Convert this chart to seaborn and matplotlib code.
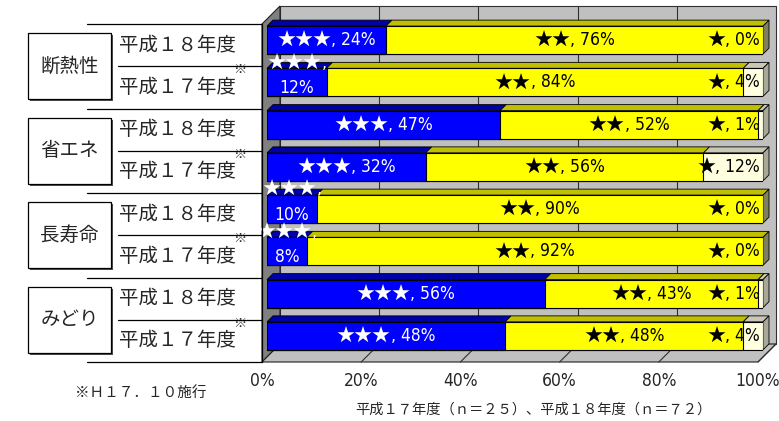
import numpy as np
import pandas as pd
import matplotlib
matplotlib.use("Agg")
import matplotlib.pyplot as plt
from matplotlib.patches import Polygon, Rectangle
from matplotlib import font_manager
import matplotlib.transforms as mtransforms
import seaborn as sns

# ---------------- data ----------------
groups = ["断熱性", "省エネ", "長寿命", "みどり"]
years = ["平成１８年度", "平成１７年度"]
year_notes = ["", "※"]
three_star = [24, 12, 47, 32, 10, 8, 56, 48]
two_star = [76, 84, 52, 56, 90, 92, 43, 48]
one_star = [0, 4, 1, 12, 0, 0, 1, 4]
star_marks = ["★★★", "★★", "★"]
x_ticks = [0, 20, 40, 60, 80, 100]
x_tick_labels = ["0%", "20%", "40%", "60%", "80%", "100%"]
x_title = "平成１７年度（ｎ＝２５）、平成１８年度（ｎ＝７２）"
footnote = "※Ｈ１７．１０施行"

# ---------------- style ----------------
sns.set_style("white")
ttf = font_manager.fontManager.ttflist
names = {f.name for f in ttf}
JP = "Noto Sans CJK JP"
plt.rcParams["font.family"] = [JP, "DejaVu Sans"]
stretch = "normal"
if "Liberation Sans Narrow" in names:
    narrow = "Liberation Sans Narrow"
elif any(f.name == "DejaVu Sans" and str(f.stretch) in ("condensed", "semi-condensed") for f in ttf):
    narrow = "DejaVu Sans"
    stretch = "condensed"
else:
    narrow = "Liberation Sans"
LBL = [narrow, JP, "DejaVu Sans"]
LFS = 12.5
SFS = 13

BLUE, YEL, CREAM = "#0000FF", "#FFFF00", "#FFFFE0"
TOPC = {BLUE: "#0000A8", YEL: "#C0C000", CREAM: "#C8C8B4"}
SIDEC = {BLUE: "#000080", YEL: "#808060", CREAM: "#A8A898"}
seg_colors = [BLUE, YEL, CREAM]
text_colors = ["white", "black", "black"]

rows = [f"{g}_{y}" for g in groups for y in years]
df = pd.DataFrame({"row": rows, "s3": three_star, "s2": two_star, "s1": one_star})
df["c_blue"] = df["s3"]
df["c_yellow"] = df["s3"] + df["s2"]
df["c_cream"] = df["s3"] + df["s2"] + df["s1"]
n = len(rows)

W, H = 779, 421
fig = plt.figure(figsize=(W / 100, H / 100), dpi=100)
fig.patch.set_facecolor("white")

# main axes = front plane of the bars (pixel box)
L, R, T, B = 267, 763, 19, 357
ax = fig.add_axes([L / W, 1 - B / H, (R - L) / W, (B - T) / H])
XS = 100.0 / (R - L)
YS = n / (B - T)


def dp(x, y, d):
    """point shifted d pixels into depth (right & up)"""
    return (x + d * XS, y - d * YS)


y0, y1 = -0.5, n - 0.5
# walls
ax.add_patch(Polygon([dp(0, y0, 13), dp(100, y0, 13), dp(100, y1, 13), dp(0, y1, 13)],
                     closed=True, fc="#C0C0C0", ec="#303030", lw=0.8, zorder=0, clip_on=False))
ax.add_patch(Polygon([dp(0, y0, -5), dp(0, y0, 13), dp(0, y1, 13), dp(0, y1, -5)],
                     closed=True, fc="#808080", ec="#202020", lw=0.8, zorder=0.5, clip_on=False))
ax.add_patch(Polygon([dp(0, y1, -5), dp(100, y1, -5), dp(100, y1, 13), dp(0, y1, 13)],
                     closed=True, fc="#C0C0C0", ec="#202020", lw=0.8, zorder=0.5, clip_on=False))
for t in x_ticks[1:-1]:
    p, q = dp(t, y0, 13), dp(t, y1, 13)
    ax.plot([p[0], q[0]], [p[1], q[1]], color="#303030", lw=0.8, zorder=0.2, clip_on=False)
for t in x_ticks[1:]:
    p, q = dp(t, y1, 13), dp(t, y1, -5)
    ax.plot([p[0], q[0]], [p[1], q[1]], color="#303030", lw=0.8, zorder=0.8, clip_on=False)

# bars (front faces) via seaborn, stacked by cumulative overlay
BW = 28 / 42.25
for col, c in [("c_cream", CREAM), ("c_yellow", YEL), ("c_blue", BLUE)]:
    sns.barplot(data=df, x=col, y="row", orient="h", color=c, saturation=1,
                width=BW, edgecolor="black", linewidth=0.8, errorbar=None,
                ax=ax, zorder=3)

ax.set_xlim(0, 100)
ax.set_ylim(y1, y0)

renderer = fig.canvas.get_renderer()
labels_to_place = []


def label(x, y, stars, rest, ha, color):
    t1 = ax.text(x, y, stars, color=color, ha="left", va="center", fontsize=SFS,
                 family=[JP, "DejaVu Sans"], zorder=5, clip_on=False)
    t2 = ax.text(x, y, rest, color=color, ha="left", va="center", fontsize=LFS,
                 family=LBL, fontstretch=stretch, zorder=5, clip_on=False)
    w1 = t1.get_window_extent(renderer).width
    w2 = t2.get_window_extent(renderer).width if rest else 0
    tot = w1 + w2
    start = x - (tot / 2 if ha == "center" else tot) * XS
    t1.set_x(start)
    t2.set_x(start + w1 * XS)


# 3D top / side faces and labels
DEPTH = 6
for i in range(n):
    yt, yb = i - BW / 2, i + BW / 2
    vals = [three_star[i], two_star[i], one_star[i]]
    a = 0
    last_c = None
    for k, v in enumerate(vals):
        b = a + v
        c = seg_colors[k]
        if v > 0:
            ax.add_patch(Polygon([(a, yt), (b, yt), dp(b, yt, DEPTH), dp(a, yt, DEPTH)],
                                 closed=True, fc=TOPC[c], ec="black", lw=0.6, zorder=2.5,
                                 clip_on=False))
            last_c = c
        mid = (a + b) / 2
        if k == 0:
            if v >= 15:
                label(mid, i, star_marks[k], f", {v}%", "center", text_colors[k])
            else:
                label(mid, i - 0.47, star_marks[k], ",", "center", text_colors[k])
                label(mid, i + 0.14, "", f"{v}%", "center", text_colors[k])
        elif k == 1:
            label(mid, i, star_marks[k], f", {v}%", "center", text_colors[k])
        else:
            label(b - 0.6, i, star_marks[k], f", {v}%", "right", text_colors[k])
        a = b
    ax.add_patch(Polygon([(a, yt), (a, yb), dp(a, yb, DEPTH), dp(a, yt, DEPTH)],
                         closed=True, fc=SIDEC[last_c], ec="black", lw=0.6, zorder=2.5,
                         clip_on=False))

ax.set_yticks([])
ax.set_ylabel("")
ax.set_xticks(x_ticks)
ax.set_xticklabels(x_tick_labels, family=LBL, fontsize=LFS, fontstretch=stretch)
ax.tick_params(axis="x", length=0, pad=10.5)
for s in ax.spines.values():
    s.set_visible(False)
ax.patch.set_alpha(0)
shift = mtransforms.ScaledTranslation(-5 / 100, 0, fig.dpi_scale_trans)
for lbl in ax.get_xticklabels():
    lbl.set_transform(lbl.get_transform() + shift)
ax.set_xlabel(x_title, fontsize=10.3)
ax.xaxis.set_label_coords((533 - L) / (R - L), -(410 - B) / (B - T))
ax.xaxis.label.set_va("center")

# left table axes
axl = fig.add_axes([0, 1 - 362 / H, 262 / W, (B - T) / H])
axl.set_xlim(0, 262)
axl.set_ylim(y1, y0)
axl.axis("off")
for k in range(len(groups) + 1):
    y = 2 * k - 0.5
    axl.plot([87, 262], [y, y], color="black", lw=0.9, clip_on=False)
for k in range(len(groups)):
    y = 2 * k + 0.5
    axl.plot([118, 262], [y, y], color="black", lw=0.9, clip_on=False)
axl.plot([262, 262], [y0, y1], color="black", lw=0.9, clip_on=False)
half = 33 / 42.25
for gi, g in enumerate(groups):
    cy = 2 * gi + 0.5
    axl.add_patch(Rectangle((30, cy - half + 2 / 42.25), 83, 2 * half, fc="#505050",
                            ec="none", zorder=1, clip_on=False))
    axl.add_patch(Rectangle((28, cy - half), 83, 2 * half, fc="white", ec="black",
                            lw=0.9, zorder=2, clip_on=False))
    axl.text(69.5, cy, g, ha="center", va="center", fontsize=14, zorder=3)
for i in range(n):
    yi = i % len(years)
    axl.text(119, i, years[yi], ha="left", va="center", fontsize=14)
    if year_notes[yi]:
        axl.text(240, i - 0.42, year_notes[yi], ha="center", va="center", fontsize=9.5)

fig.text(75 / W, 1 - 393 / H, footnote, ha="left", va="center", fontsize=10.5)

fig.savefig("out.png", dpi=100)
